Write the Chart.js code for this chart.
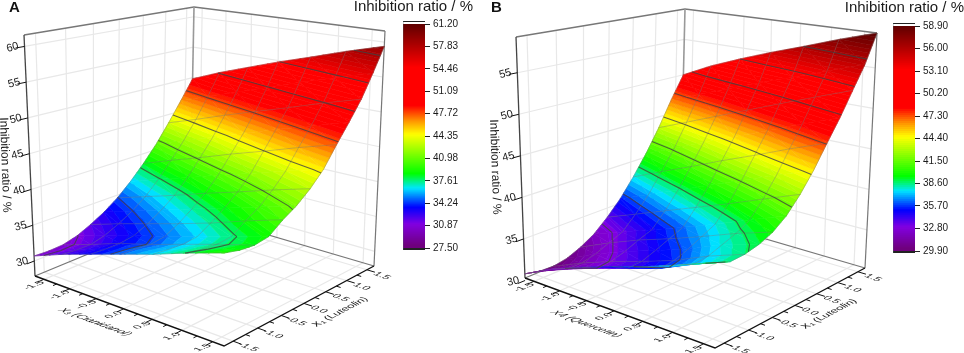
<!DOCTYPE html>
<html>
<head>
<meta charset="utf-8">
<title>Inhibition ratio surfaces</title>
<script src="https://cdn.jsdelivr.net/npm/chart.js@4"></script>
<style>
  html, body { margin: 0; padding: 0; background: #fff; }
  #wrap { position: relative; width: 964px; height: 353px; overflow: hidden; }
  canvas { position: absolute; top: 0; }
</style>
</head>
<body>
<div id="wrap">
  <canvas id="panelA" width="482" height="353" style="left:0"></canvas>
  <canvas id="panelB" width="482" height="353" style="left:482px"></canvas>
  <canvas id="barA" width="62" height="270" style="left:403px"></canvas>
  <canvas id="barB" width="62" height="270" style="left:893px"></canvas>
</div>
<script>
// Surface nodes: columns run along the front-left axis, rows along the front-right axis (X1)
const colCoded = [-1.68, -1.12, -0.56, 0, 0.56, 1.12, 1.68];
const rowCoded = [-1.68, -1.40, -1.12, -0.84, -0.56, -0.28, 0, 0.28, 0.56, 0.84, 1.12, 1.40, 1.68];

const surfaceA = [
  [30.3, 31.9, 33.3, 34.7, 36.1, 37.7, 39.2],
  [30.2, 31.7, 33.2, 34.6, 35.9, 37.4, 38.7],
  [30.3, 31.7, 33.2, 34.4, 35.8, 37.2, 38.5],
  [30.8, 32.2, 33.5, 34.7, 36.0, 37.4, 38.8],
  [31.7, 33.1, 34.4, 35.7, 37.1, 38.7, 40.2],
  [32.8, 34.2, 35.6, 37.0, 38.4, 39.8, 41.3],
  [34.2, 35.6, 37.0, 38.5, 39.9, 41.4, 42.8],
  [36.0, 37.5, 38.9, 40.4, 41.8, 43.3, 44.7],
  [38.1, 39.7, 41.2, 42.8, 44.3, 45.9, 47.4],
  [40.5, 42.1, 43.6, 45.2, 46.8, 48.3, 49.9],
  [43.3, 44.8, 46.4, 47.9, 49.4, 51.0, 52.5],
  [46.3, 47.9, 49.4, 51.0, 52.6, 54.1, 55.7],
  [49.4, 51.2, 52.8, 54.4, 55.9, 57.5, 59.0]
];
const surfaceB = [
  [30.4, 32.2, 33.6, 34.9, 36.1, 37.5, 39.0],
  [30.0, 31.5, 32.8, 34.0, 35.2, 36.9, 38.4],
  [29.9, 31.5, 32.9, 34.1, 35.4, 37.1, 38.5],
  [30.2, 31.9, 33.4, 34.7, 36.0, 37.7, 38.9],
  [30.9, 32.6, 34.1, 35.4, 36.8, 38.3, 39.6],
  [31.9, 33.3, 34.7, 36.1, 37.6, 39.2, 40.8],
  [33.4, 34.9, 36.4, 37.9, 39.4, 41.0, 42.6],
  [35.2, 36.8, 38.4, 40.0, 41.6, 43.2, 44.8],
  [37.5, 39.2, 40.8, 42.5, 44.1, 45.8, 47.4],
  [40.1, 41.7, 43.4, 45.0, 46.6, 48.3, 49.9],
  [43.1, 44.7, 46.3, 47.9, 49.5, 51.1, 52.7],
  [46.5, 48.0, 49.5, 51.0, 52.4, 53.9, 55.4],
  [49.6, 51.5, 53.1, 54.6, 56.0, 57.5, 58.9]
];

const axisTicks = [-1.5, -1.0, -0.5, 0.0, 0.5, 1.0, 1.5];
const minorTicks = [-1.25, -0.75, -0.25, 0.25, 0.75, 1.25];
const zTicksA = [30, 35, 40, 45, 50, 55, 60];
const zTicksB = [30, 35, 40, 45, 50, 55];
const colorTicksA = [27.50, 30.87, 34.24, 37.61, 40.98, 44.35, 47.72, 51.09, 54.46, 57.83, 61.20];
const colorTicksB = [29.90, 32.80, 35.70, 38.60, 41.50, 44.40, 47.30, 50.20, 53.10, 56.00, 58.90];

const FONT = '"Liberation Sans", Arial, sans-serif';
const RANGE = 1.68;
const BANDS = 64;
const Z_TICK_SHIFT = 0.4;

// rainbow map (position 0..1, r, g, b)
const colorStops = [
  [0.00, 110, 0, 120], [0.10, 130, 0, 225], [0.175, 0, 0, 255], [0.26, 0, 230, 255],
  [0.325, 0, 255, 0], [0.50, 255, 255, 0], [0.56, 255, 150, 0], [0.63, 255, 0, 0],
  [0.80, 255, 0, 0], [1.00, 90, 0, 0]
];

function colorAt(f) {
  f = Math.min(1, Math.max(0, f));
  for (let i = 1; i < colorStops.length; i++) {
    const a = colorStops[i - 1], b = colorStops[i];
    if (f <= b[0]) {
      const t = (f - a[0]) / (b[0] - a[0]);
      const c = [1, 2, 3].map(k => Math.round(a[k] + (b[k] - a[k]) * t));
      return `rgb(${c[0]},${c[1]},${c[2]})`;
    }
  }
  return 'rgb(90,0,0)';
}

// perspective map of the unit square onto a corner quad
function homography(q) {
  const [p0, p1, p2, p3] = q;
  const dx1 = p1[0] - p2[0], dx2 = p3[0] - p2[0], sx = p0[0] - p1[0] + p2[0] - p3[0];
  const dy1 = p1[1] - p2[1], dy2 = p3[1] - p2[1], sy = p0[1] - p1[1] + p2[1] - p3[1];
  const det = dx1 * dy2 - dx2 * dy1;
  const g = (sx * dy2 - dx2 * sy) / det, h = (dx1 * sy - sx * dy1) / det;
  const a = p1[0] - p0[0] + g * p1[0], b = p3[0] - p0[0] + h * p3[0];
  const d = p1[1] - p0[1] + g * p1[1], e = p3[1] - p0[1] + h * p3[1];
  return (s, t) => {
    const w = g * s + h * t + 1;
    return [(a * s + b * t + p0[0]) / w, (d * s + e * t + p0[1]) / w];
  };
}

function unit(a, b) {
  const dx = b[0] - a[0], dy = b[1] - a[1], n = Math.hypot(dx, dy);
  return [dx / n, dy / n];
}

// keep the part of a polygon of [u, v, z] nodes on one side of a z level
function clipZ(poly, level, keepAbove) {
  const out = [];
  for (let i = 0; i < poly.length; i++) {
    const a = poly[i], b = poly[(i + 1) % poly.length];
    const inA = keepAbove ? a[2] >= level : a[2] <= level;
    const inB = keepAbove ? b[2] >= level : b[2] <= level;
    if (inA) out.push(a);
    if (inA !== inB) {
      const t = (level - a[2]) / (b[2] - a[2]);
      out.push([a[0] + (b[0] - a[0]) * t, a[1] + (b[1] - a[1]) * t, level]);
    }
  }
  return out;
}

function buildPanel(p) {
  const floorMap = homography(p.floor), topMap = homography(p.top);
  const project = (u, v, z) => {
    const s = (u + RANGE) / (2 * RANGE), t = (v + RANGE) / (2 * RANGE);
    const a = floorMap(s, t), b = topMap(s, t), w = (z - p.zMin) / (p.zMax - p.zMin);
    return { x: a[0] + (b[0] - a[0]) * w, y: a[1] + (b[1] - a[1]) * w };
  };
  const sets = [];
  const line = (pts, color, width) => sets.push({
    data: pts, showLine: true, fill: false, borderColor: color, borderWidth: width,
    pointRadius: 0, clip: false
  });

  // walls and floor grid
  const GRID = '#e8e8e8';
  axisTicks.forEach(k => {
    line([project(k, -RANGE, p.zMin), project(k, RANGE, p.zMin)], GRID, 1.2);
    line([project(-RANGE, k, p.zMin), project(RANGE, k, p.zMin)], GRID, 1.2);
    line([project(-RANGE, k, p.zMin), project(-RANGE, k, p.zMax)], GRID, 1.2);
    line([project(k, RANGE, p.zMin), project(k, RANGE, p.zMax)], GRID, 1.2);
  });
  p.zTicks.forEach(z => {
    const zt = z - Z_TICK_SHIFT;
    if (zt < p.zMin) return;
    line([project(-RANGE, -RANGE, zt), project(-RANGE, RANGE, zt), project(RANGE, RANGE, zt)], GRID, 1.2);
  });

  // box edges
  line([project(-RANGE, -RANGE, p.zMin), project(-RANGE, RANGE, p.zMin), project(RANGE, RANGE, p.zMin)], '#777', 1.2);
  line([project(-RANGE, -RANGE, p.zMax), project(-RANGE, RANGE, p.zMax), project(RANGE, RANGE, p.zMax)], '#777', 1.4);
  line([project(-RANGE, RANGE, p.zMin), project(-RANGE, RANGE, p.zMax)], '#999', 1.6);
  line([project(RANGE, RANGE, p.zMin), project(RANGE, RANGE, p.zMax)], '#777', 1.2);
  line([project(-RANGE, -RANGE, p.zMin), project(-RANGE, -RANGE, p.zMax)], '#444', 1.3);
  line([project(-RANGE, -RANGE, p.zMin), project(RANGE, -RANGE, p.zMin), project(RANGE, RANGE, p.zMin)], '#111', 1.4);

  // axis ticks
  const tickSet = (list, len) => list.forEach(k => {
    line([project(k, -RANGE, p.zMin), project(k, -RANGE - len, p.zMin)], '#111', 1);
    line([project(RANGE, k, p.zMin), project(RANGE + len, k, p.zMin)], '#111', 1);
  });
  tickSet(axisTicks, 0.13);
  tickSet(minorTicks, 0.07);
  p.zTicks.forEach(z => {
    line([project(-RANGE, -RANGE, z - Z_TICK_SHIFT), project(-RANGE, -RANGE - 0.14, z - Z_TICK_SHIFT)], '#111', 1);
  });

  // surface drawn as colour bands clipped out of each mesh triangle, far corner first
  const grid = p.surface;
  const bandH = (p.zMax - p.zMin) / BANDS;
  for (let i = rowCoded.length - 2; i >= 0; i--) {
    for (let j = 0; j < colCoded.length - 1; j++) {
      const n = (r, c) => [colCoded[c], rowCoded[r], grid[r][c]];
      const tris = [
        [n(i + 1, j), n(i + 1, j + 1), n(i, j + 1)],
        [n(i + 1, j), n(i, j + 1), n(i, j)]
      ];
      tris.forEach(tri => {
        const zs = tri.map(q => q[2]);
        const k0 = Math.floor((Math.min(...zs) - p.zMin) / bandH);
        const k1 = Math.floor((Math.max(...zs) - p.zMin) / bandH);
        for (let k = k0; k <= k1; k++) {
          const lo = p.zMin + k * bandH, hi = lo + bandH;
          const poly = clipZ(clipZ(tri, lo, true), hi, false);
          if (poly.length < 3) continue;
          const pts = poly.map(q => project(q[0], q[1], q[2]));
          pts.push(pts[0]);
          const color = colorAt((k + 0.5) / BANDS);
          sets.push({
            data: pts, showLine: true, fill: 'shape', backgroundColor: color, borderColor: color,
            borderWidth: 0.6, pointRadius: 0, clip: false
          });
        }
      });
    }
  }

  // mesh lines on the surface
  const MESH = 'rgba(110,110,110,0.36)';
  for (let j = 0; j < colCoded.length; j++) {
    line(rowCoded.map((v, i) => project(colCoded[j], v, grid[i][j])), MESH, 1);
  }
  for (let i = 0; i < rowCoded.length; i += 2) {
    line(colCoded.map((u, j) => project(u, rowCoded[i], grid[i][j])), MESH, 1);
  }

  // contour lines at the colour bar tick levels
  p.colorTicks.slice(1, -1).forEach(level => {
    const pts = [];
    for (let i = 0; i < rowCoded.length - 1; i++) {
      for (let j = 0; j < colCoded.length - 1; j++) {
        const c = [[i, j], [i, j + 1], [i + 1, j + 1], [i + 1, j]];
        const hits = [];
        for (let k = 0; k < 4; k++) {
          const m = c[k], n = c[(k + 1) % 4];
          const za = grid[m[0]][m[1]], zb = grid[n[0]][n[1]];
          if ((za < level) !== (zb < level)) {
            const t = (level - za) / (zb - za);
            hits.push(project(
              colCoded[m[1]] + (colCoded[n[1]] - colCoded[m[1]]) * t,
              rowCoded[m[0]] + (rowCoded[n[0]] - rowCoded[m[0]]) * t, level));
          }
        }
        for (let h = 0; h + 1 < hits.length; h += 2) {
          pts.push(hits[h], hits[h + 1], { x: NaN, y: NaN });
        }
      }
    }
    line(pts, 'rgba(65,65,65,0.8)', 1.1);
  });

  const L = p.floor[0], F = p.floor[1], R = p.floor[2], B = p.floor[3];
  const alongLF = unit(L, F), alongFR = unit(F, R), alongLB = unit(L, B);
  const scaled = (d, k) => [d[0] * k, d[1] * k];

  const labels = {
    id: 'panelText',
    afterDraw(chart) {
      const ctx = chart.ctx, sx = chart.scales.x, sy = chart.scales.y;
      const px = q => [sx.getPixelForValue(q.x), sy.getPixelForValue(q.y)];
      const skew = (text, at, ax, ay, font) => {
        ctx.save();
        ctx.transform(ax[0], ax[1], ay[0], ay[1], at[0], at[1]);
        ctx.font = font;
        ctx.fillStyle = '#1a1a1a';
        ctx.textAlign = 'center';
        ctx.textBaseline = 'middle';
        ctx.fillText(text, 0, 0);
        ctx.restore();
      };
      const tickFont = `11px ${FONT}`;
      axisTicks.forEach(k => {
        const t = px(project(k, -RANGE, p.zMin));
        skew(k.toFixed(1), [t[0] - 10, t[1] + 6], alongLB, scaled(alongLF, 0.85), tickFont);
        const r = px(project(RANGE, k, p.zMin));
        skew(k.toFixed(1), [r[0] + 15, r[1] + 6], alongLF, scaled(alongFR, -0.85), tickFont);
      });
      const rot = -15 * Math.PI / 180;
      p.zTicks.forEach(z => {
        const t = px(project(-RANGE, -RANGE, z - Z_TICK_SHIFT));
        skew(String(z), [t[0] - 12, t[1] + 1], [Math.cos(rot), Math.sin(rot)], [-Math.sin(rot), Math.cos(rot)], `11px ${FONT}`);
      });
      const titleFont = `italic 11px ${FONT}`;
      const shift = a => [a[0] - p.left, a[1]];
      skew(p.colTitle, shift(p.colTitleAt), alongLF, scaled(alongLB, -0.95), titleFont);
      skew(p.rowTitle, shift(p.rowTitleAt), alongFR, scaled(alongLF, 0.95), titleFont);

      ctx.save();
      ctx.fillStyle = '#1a1a1a';
      ctx.textAlign = 'center';
      ctx.textBaseline = 'middle';
      ctx.font = `12px ${FONT}`;
      ctx.translate(p.zTitleAt[0] - p.left, p.zTitleAt[1]);
      ctx.rotate(88 * Math.PI / 180);
      ctx.fillText('Inhibition ratio / %', 0, 0);
      ctx.restore();

      ctx.save();
      ctx.fillStyle = '#111';
      ctx.textBaseline = 'middle';
      ctx.textAlign = 'left';
      ctx.font = `bold 15px ${FONT}`;
      ctx.fillText(p.letter, p.letterAt[0] - p.left, p.letterAt[1]);
      ctx.fillStyle = '#1a1a1a';
      ctx.font = `15px ${FONT}`;
      ctx.textAlign = 'right';
      ctx.fillText('Inhibition ratio / %', p.titleAt[0] - p.left, p.titleAt[1]);
      ctx.restore();
    }
  };

  new Chart(document.getElementById(p.canvas), {
    type: 'scatter',
    data: { datasets: sets.slice().reverse() },
    options: {
      responsive: false,
      animation: false,
      events: [],
      layout: { padding: 0 },
      plugins: { legend: { display: false }, tooltip: { enabled: false } },
      scales: {
        x: { type: 'linear', min: p.left, max: p.left + 482, display: false },
        y: { type: 'linear', min: 0, max: 353, reverse: true, display: false }
      }
    },
    plugins: [labels]
  });
}

function buildColorBar(id, ticks, top, bottom) {
  const lo = ticks[0], hi = ticks[ticks.length - 1];
  const n = 112;
  const sets = [];
  for (let k = 0; k < n; k++) {
    // each band runs a little into the next one so no white seam shows between bars
    const a = lo + (hi - lo) * k / n, b = Math.min(hi, lo + (hi - lo) * (k + 1.6) / n);
    sets.push({ data: [[a, b]], backgroundColor: colorAt((k + 0.5) / n), borderWidth: 0 });
  }
  const caps = {
    id: 'barCaps',
    afterDatasetsDraw(chart) {
      const c = chart.ctx, a = chart.chartArea;
      c.save();
      c.fillStyle = '#fff';
      c.fillRect(a.left, a.top - 2, a.width, 2);
      c.fillStyle = '#222';
      c.fillRect(a.left, a.top - 3, a.width, 1);
      c.fillRect(a.left, a.bottom, a.width, 2);
      c.strokeStyle = 'rgba(80,110,110,0.7)';
      c.lineWidth = 0.8;
      c.beginPath();
      c.moveTo(a.left, a.top - 3);
      c.lineTo(a.left, a.bottom + 2);
      c.stroke();
      c.restore();
    }
  };
  new Chart(document.getElementById(id), {
    type: 'bar',
    data: { labels: [''], datasets: sets },
    options: {
      responsive: false,
      animation: false,
      events: [],
      layout: { padding: { top: top, bottom: 270 - bottom, left: 0, right: 0 } },
      datasets: { bar: { barPercentage: 1, categoryPercentage: 1 } },
      plugins: { legend: { display: false }, tooltip: { enabled: false } },
      scales: {
        x: { stacked: true, display: false },
        y: {
          position: 'right', min: lo, max: hi,
          afterBuildTicks: s => { s.ticks = ticks.map(value => ({ value })); },
          afterFit: s => { s.width = 40; },
          grid: { drawOnChartArea: false, color: '#222', tickLength: 5 },
          border: { display: false },
          ticks: {
            autoSkip: false, padding: 3, color: '#1a1a1a',
            font: { family: FONT, size: 10 },
            callback: v => Number(v).toFixed(2)
          }
        }
      }
    },
    plugins: [caps]
  });
}

buildPanel({
  canvas: 'panelA', left: 0, letter: 'A', letterAt: [9, 8], titleAt: [473, 7],
  floor: [[35, 276], [224, 346], [374, 266], [190, 212]],
  top: [[24, 35], [225.5, 78], [385, 31], [194, 7]],
  zMin: 27.5, zMax: 61.2, zTicks: zTicksA, surface: surfaceA, colorTicks: colorTicksA,
  colTitle: 'X\u2083 (Cianidanol)', colTitleAt: [95, 322],
  rowTitle: 'X\u2081 (Luteolin)', rowTitleAt: [340, 312],
  zTitleAt: [5, 165]
});
buildPanel({
  canvas: 'panelB', left: 482, letter: 'B', letterAt: [491, 8], titleAt: [964, 8],
  floor: [[525, 278], [715, 348], [865, 268], [680, 214]],
  top: [[516, 37], [716.5, 76], [877, 33], [685, 9]],
  zMin: 29.9, zMax: 58.9, zTicks: zTicksB, surface: surfaceB, colorTicks: colorTicksB,
  colTitle: 'X4 (Quercetin)', colTitleAt: [586, 324],
  rowTitle: 'X\u2081 (Luteolin)', rowTitleAt: [829, 314],
  zTitleAt: [495, 167]
});
buildColorBar('barA', colorTicksA, 24, 248);
buildColorBar('barB', colorTicksB, 26, 251);
</script>
</body>
</html>
